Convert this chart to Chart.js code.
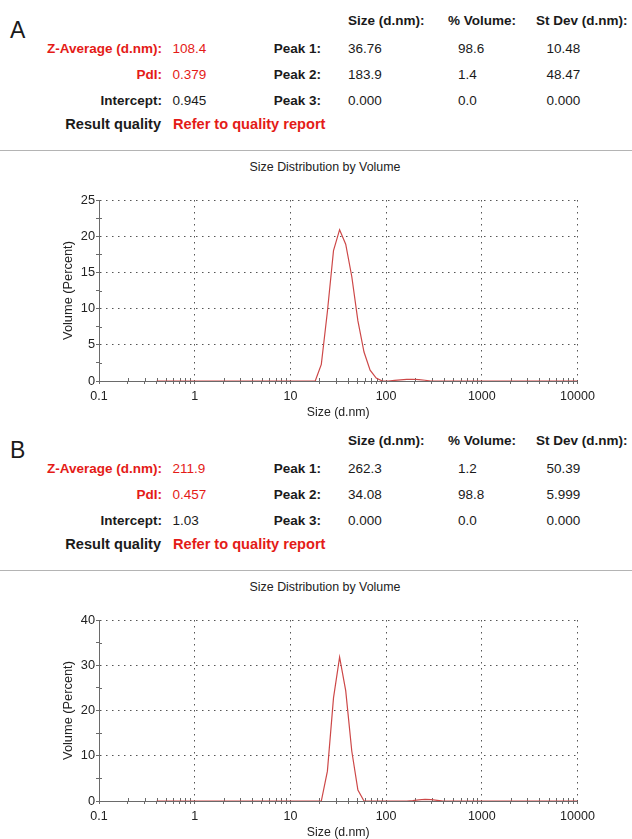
<!DOCTYPE html>
<html>
<head>
<meta charset="utf-8">
<script src="https://cdn.jsdelivr.net/npm/chart.js@4.4.1/dist/chart.umd.min.js"></script>
<style>
html,body{margin:0;padding:0;background:#fff;}
body{width:632px;height:839px;position:relative;overflow:hidden;font-family:"Liberation Sans",Arial,Helvetica,sans-serif;color:#1a1a1a;}
.t{position:absolute;white-space:nowrap;line-height:17px;height:17px;font-size:13.5px;}
.b{font-weight:bold;}
.r{color:#e41b17;}
.q{font-size:14.6px;}
.big{font-size:23px;line-height:26px;height:26px;}
.ct{font-size:12.4px;color:#222;}
.sep{position:absolute;left:0;width:632px;height:1px;background:#b4b4b4;}
canvas{position:absolute;left:0;}
</style>
</head>
<body>
<canvas id="chartA" width="632" height="245"></canvas>
<canvas id="chartB" width="632" height="245"></canvas>
<script>
// ---------- data ----------
const sizes = [0.4000, 0.4632, 0.5365, 0.6213, 0.7195, 0.8332, 0.9649, 1.117, 1.294, 1.499,
  1.736, 2.010, 2.328, 2.696, 3.122, 3.615, 4.187, 4.849, 5.615, 6.503,
  7.531, 8.721, 10.10, 11.70, 13.54, 15.69, 18.17, 21.04, 24.36, 28.21,
  32.67, 37.84, 43.82, 50.75, 58.77, 68.06, 78.82, 91.28, 105.7, 122.4,
  141.8, 164.2, 190.1, 220.2, 255.0, 295.3, 342.0, 396.1, 458.7, 531.2,
  615.1, 712.4, 825.0, 955.4, 1106, 1281, 1484, 1718, 1990, 2305,
  2669, 3091, 3580, 4145, 4801, 5560, 6439, 7456, 8635, 10000];

const volumeA = [0, 0, 0, 0, 0, 0, 0, 0, 0, 0,
  0, 0, 0, 0, 0, 0, 0, 0, 0, 0,
  0, 0, 0, 0, 0, 0, 0, 2.3, 9.6, 18.0,
  20.9, 18.9, 14.4, 8.3, 4.0, 1.5, 0.4, 0, 0, 0.08,
  0.16, 0.22, 0.24, 0.2, 0.1, 0, 0, 0, 0, 0,
  0, 0, 0, 0, 0, 0, 0, 0, 0, 0,
  0, 0, 0, 0, 0, 0, 0, 0, 0, 0];

const volumeB = [0, 0, 0, 0, 0, 0, 0, 0, 0, 0,
  0, 0, 0, 0, 0, 0, 0, 0, 0, 0,
  0, 0, 0, 0, 0, 0, 0, 0, 6.6, 22.8,
  31.8, 24.4, 11.0, 2.4, 0, 0, 0, 0, 0, 0,
  0, 0, 0.1, 0.25, 0.35, 0.3, 0.15, 0, 0, 0,
  0, 0, 0, 0, 0, 0, 0, 0, 0, 0,
  0, 0, 0, 0, 0, 0, 0, 0, 0, 0];

const xMajorTicks = [0.1, 1, 10, 100, 1000, 10000];
const xTickLabels = ['0.1', '1', '10', '100', '1000', '10000'];
const yTickValuesA = [0, 2.5, 5, 7.5, 10, 12.5, 15, 17.5, 20, 22.5, 25];
const yMajorA = [0, 5, 10, 15, 20, 25];
const yTickValuesB = [0, 5, 10, 15, 20, 25, 30, 35, 40];
const yMajorB = [0, 10, 20, 30, 40];

const headerLabels = ['Size (d.nm):', '% Volume:', 'St Dev (d.nm):'];
const peakLabels = ['Peak 1:', 'Peak 2:', 'Peak 3:'];
const leftLabels = ['Z-Average (d.nm):', 'PdI:', 'Intercept:'];
const leftValuesA = ['108.4', '0.379', '0.945'];
const leftValuesB = ['211.9', '0.457', '1.03'];
const peakSizeA = ['36.76', '183.9', '0.000'];
const peakVolA = ['98.6', '1.4', '0.0'];
const peakSdA = ['10.48', '48.47', '0.000'];
const peakSizeB = ['262.3', '34.08', '0.000'];
const peakVolB = ['1.2', '98.8', '0.0'];
const peakSdB = ['50.39', '5.999', '0.000'];

// ---------- HTML text ----------
function place(text, x, yc, align, cls) {
  const d = document.createElement('div');
  d.className = 't ' + (cls || '');
  d.textContent = text;
  if (align === 'right') d.style.right = (632 - x) + 'px';
  else if (align === 'center') { d.style.left = x + 'px'; d.style.transform = 'translateX(-50%)'; }
  else d.style.left = x + 'px';
  document.body.appendChild(d);
  const h = d.offsetHeight;
  d.style.top = (yc - h / 2) + 'px';
  return d;
}

function block(off, letter, lv, ps, pv, psd) {
  place(letter, 10, 30 + off, 'left', 'big');
  place(headerLabels[0], 348, 20 + off, 'left', 'b');
  place(headerLabels[1], 448, 20 + off, 'left', 'b');
  place(headerLabels[2], 536, 20 + off, 'left', 'b');
  const rows = [48, 74, 100.5];
  rows.forEach((ry, i) => {
    const red = i < 2 ? ' r' : '';
    place(leftLabels[i], 162, ry + off, 'right', 'b' + red);
    place(lv[i], 172.5, ry + off, 'left', red);
    place(peakLabels[i], 321, ry + off, 'right', 'b');
    place(ps[i], 348, ry + off, 'left');
    place(pv[i], 458, ry + off, 'left');
    place(psd[i], 546.5, ry + off, 'left');
  });
  place('Result quality', 161, 124 + off, 'right', 'b q');
  place('Refer to quality report', 173, 124 + off, 'left', 'b r q');
  const s = document.createElement('div');
  s.className = 'sep';
  s.style.top = (150 + off) + 'px';
  document.body.appendChild(s);
  place('Size Distribution by Volume', 325, 167 + off, 'center', 'ct');
}
block(0, 'A', leftValuesA, peakSizeA, peakVolA, peakSdA);
block(420, 'B', leftValuesB, peakSizeB, peakVolB, peakSdB);

// ---------- charts ----------
const FONT = '"Liberation Sans", Arial, sans-serif';
const isMajorX = v => Math.abs(Math.log10(v) - Math.round(Math.log10(v))) < 1e-6;
const xTickValues = [];
xMajorTicks.forEach((m, i) => {
  if (i === xMajorTicks.length - 1) { xTickValues.push(m); return; }
  for (let k = 1; k <= 9; k++) xTickValues.push(m * k);
});

const innerTicks = {
  id: 'innerTicks',
  beforeDatasetsDraw(chart, args, opts) {
    const {ctx, chartArea: a, scales: {x, y}} = chart;
    ctx.save();
    ctx.strokeStyle = '#6a6a6a';
    ctx.lineWidth = 1;
    ctx.beginPath();
    x.ticks.forEach(t => {
      if (!isMajorX(t.value)) {
        const px = Math.round(x.getPixelForValue(t.value)) + 0.5;
        ctx.moveTo(px, a.bottom); ctx.lineTo(px, a.bottom - 3);
      }
    });
    y.ticks.forEach(t => {
      if (!opts.major.includes(t.value)) {
        const py = Math.round(y.getPixelForValue(t.value)) + 0.5;
        ctx.moveTo(a.left, py); ctx.lineTo(a.left + 3, py);
      }
    });
    ctx.stroke();
    ctx.restore();
  }
};

function makeChart(id, top, values, yTicks, yMajor, yMax) {
  const cv = document.getElementById(id);
  cv.style.top = top + 'px';
  new Chart(cv, {
    type: 'line',
    data: {
      datasets: [{
        data: sizes.map((s, i) => ({x: s, y: values[i]})),
        borderColor: 'rgb(205,72,72)',
        borderWidth: 1.2,
        pointRadius: 0,
        tension: 0,
        fill: false
      }]
    },
    plugins: [innerTicks],
    options: {
      responsive: false,
      animation: false,
      devicePixelRatio: 1,
      layout: {padding: {left: 55, right: 54.5, top: 20, bottom: 5}},
      plugins: {
        legend: {display: false},
        tooltip: {enabled: false},
        title: {display: false},
        innerTicks: {major: yMajor}
      },
      scales: {
        x: {
          type: 'logarithmic',
          min: 0.1, max: 10000,
          afterBuildTicks: s => { s.ticks = xTickValues.map(v => ({value: v})); },
          afterFit: s => { s.height = 39; },
          ticks: {
            autoSkip: false, maxRotation: 0, minRotation: 0, padding: 5,
            color: '#222', font: {family: FONT, size: 12.5},
            callback: v => { const i = xMajorTicks.indexOf(v); return i >= 0 ? xTickLabels[i] : ''; }
          },
          grid: {
            color: c => (c.tick && isMajorX(c.tick.value)) ? '#555' : 'rgba(0,0,0,0)',
            tickColor: '#6a6a6a', tickLength: 3, lineWidth: 1, tickBorderDash: []
          },
          border: {display: true, color: '#6a6a6a', width: 1, dash: [1.5, 4.5]},
          title: {display: true, text: 'Size (d.nm)', color: '#222', font: {family: FONT, size: 12.3}, padding: {top: 0, bottom: 0}}
        },
        y: {
          type: 'linear',
          min: 0, max: yMax,
          afterBuildTicks: s => { s.ticks = yTicks.map(v => ({value: v})); },
          afterFit: s => { s.width = 44; },
          ticks: {
            autoSkip: false, padding: 1, color: '#222', font: {family: FONT, size: 12.8},
            callback: v => yMajor.includes(v) ? String(v) : ''
          },
          grid: {
            color: c => (c.tick && yMajor.includes(c.tick.value)) ? '#555' : 'rgba(0,0,0,0)',
            tickColor: '#6a6a6a', tickLength: 3, lineWidth: 1, tickBorderDash: []
          },
          border: {display: true, color: '#6a6a6a', width: 1, dash: [1.5, 4.5]},
          title: {display: true, text: 'Volume (Percent)', color: '#222', font: {family: FONT, size: 12.8}, padding: {top: 6.2, bottom: 0}}
        }
      }
    }
  });
}
makeChart('chartA', 180, volumeA, yTickValuesA, yMajorA, 25);
makeChart('chartB', 600, volumeB, yTickValuesB, yMajorB, 40);
</script>
</body>
</html>
